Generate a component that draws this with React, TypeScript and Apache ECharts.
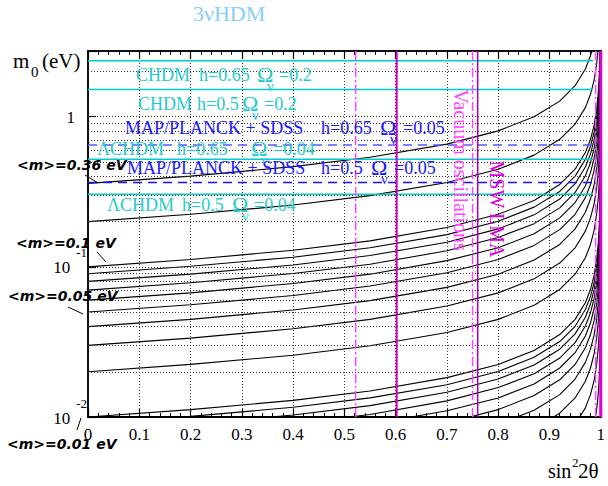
import React, { useEffect, useRef } from "react";
import * as echarts from "echarts";

// ---------- data ----------
const X_GRID = [0, 0.2, 0.4, 0.55, 0.7, 0.8, 0.87, 0.92, 0.95, 0.97, 0.98, 0.987, 0.992, 0.995, 0.997, 0.999, 1];

const CURVE_0_36 = [0.36, 0.402, 0.465, 0.537, 0.657, 0.805, 0.999, 1.27, 1.61, 2.08, 2.55, 3.16];
const CURVE_0_2 = [0.2, 0.224, 0.258, 0.298, 0.365, 0.447, 0.555, 0.707, 0.894, 1.15, 1.41, 1.75, 2.24, 2.83];
const CURVE_0_1 = [0.1, 0.112, 0.129, 0.149, 0.183, 0.224, 0.277, 0.354, 0.447, 0.577, 0.707, 0.877, 1.12, 1.41, 1.83, 3.16];
const CURVE_0_09 = [0.09, 0.101, 0.116, 0.134, 0.164, 0.201, 0.25, 0.318, 0.402, 0.52, 0.636, 0.789, 1.01, 1.27, 1.64, 2.85];
const CURVE_0_08 = [0.08, 0.0894, 0.103, 0.119, 0.146, 0.179, 0.222, 0.283, 0.358, 0.462, 0.566, 0.702, 0.894, 1.13, 1.46, 2.53, 3];
const CURVE_0_07 = [0.07, 0.0783, 0.0904, 0.104, 0.128, 0.157, 0.194, 0.247, 0.313, 0.404, 0.495, 0.614, 0.783, 0.99, 1.28, 2.21, 3];
const CURVE_0_06 = [0.06, 0.0671, 0.0775, 0.0894, 0.11, 0.134, 0.166, 0.212, 0.268, 0.346, 0.424, 0.526, 0.671, 0.849, 1.1, 1.9, 3];
const CURVE_0_05 = [0.05, 0.0559, 0.0645, 0.0745, 0.0913, 0.112, 0.139, 0.177, 0.224, 0.289, 0.354, 0.439, 0.559, 0.707, 0.913, 1.58, 3];
const CURVE_0_04 = [0.04, 0.0447, 0.0516, 0.0596, 0.073, 0.0894, 0.111, 0.141, 0.179, 0.231, 0.283, 0.351, 0.447, 0.566, 0.73, 1.26, 3];
const CURVE_0_03 = [0.03, 0.0335, 0.0387, 0.0447, 0.0548, 0.0671, 0.0832, 0.106, 0.134, 0.173, 0.212, 0.263, 0.335, 0.424, 0.548, 0.949, 3];
const CURVE_0_02 = [0.02, 0.0224, 0.0258, 0.0298, 0.0365, 0.0447, 0.0555, 0.0707, 0.0894, 0.115, 0.141, 0.175, 0.224, 0.283, 0.365, 0.632, 3];
const CURVE_0_01 = [0.01, 0.0112, 0.0129, 0.0149, 0.0183, 0.0224, 0.0277, 0.0354, 0.0447, 0.0577, 0.0707, 0.0877, 0.112, 0.141, 0.183, 0.316, 3];
const CURVE_0_009 = [0.009, 0.0101, 0.0116, 0.0134, 0.0164, 0.0201, 0.025, 0.0318, 0.0402, 0.052, 0.0636, 0.0789, 0.101, 0.127, 0.164, 0.285, 3];
const CURVE_0_008 = [0.008, 0.00894, 0.0103, 0.0119, 0.0146, 0.0179, 0.0222, 0.0283, 0.0358, 0.0462, 0.0566, 0.0702, 0.0894, 0.113, 0.146, 0.253, 3];
const CURVE_0_007 = [0.007, 0.00783, 0.00904, 0.0104, 0.0128, 0.0157, 0.0194, 0.0247, 0.0313, 0.0404, 0.0495, 0.0614, 0.0783, 0.099, 0.128, 0.221, 3];
const CURVE_0_006 = [0.006, 0.00671, 0.00775, 0.00894, 0.011, 0.0134, 0.0166, 0.0212, 0.0268, 0.0346, 0.0424, 0.0526, 0.0671, 0.0849, 0.11, 0.19, 3];
const CURVE_0_005 = [0.005, 0.00559, 0.00645, 0.00745, 0.00913, 0.0112, 0.0139, 0.0177, 0.0224, 0.0289, 0.0354, 0.0439, 0.0559, 0.0707, 0.0913, 0.158, 3];
const CURVE_0_004 = [0.004, 0.00447, 0.00516, 0.00596, 0.0073, 0.00894, 0.0111, 0.0141, 0.0179, 0.0231, 0.0283, 0.0351, 0.0447, 0.0566, 0.073, 0.126, 3];
const CURVE_0_003 = [0.003, 0.00335, 0.00387, 0.00447, 0.00548, 0.00671, 0.00832, 0.0106, 0.0134, 0.0173, 0.0212, 0.0263, 0.0335, 0.0424, 0.0548, 0.0949, 3];
const CURVE_0_002 = [0.002, 0.00224, 0.00258, 0.00298, 0.00365, 0.00447, 0.00555, 0.00707, 0.00894, 0.0115, 0.0141, 0.0175, 0.0224, 0.0283, 0.0365, 0.0632, 3];
const CURVE_0_001 = [0.001, 0.00112, 0.00129, 0.00149, 0.00183, 0.00224, 0.00277, 0.00354, 0.00447, 0.00577, 0.00707, 0.00877, 0.0112, 0.0141, 0.0183, 0.0316, 3];

const CURVES = [
  CURVE_0_36, CURVE_0_2, CURVE_0_1, CURVE_0_09, CURVE_0_08, CURVE_0_07, CURVE_0_06,
  CURVE_0_05, CURVE_0_04, CURVE_0_03, CURVE_0_02, CURVE_0_01, CURVE_0_009, CURVE_0_008,
  CURVE_0_007, CURVE_0_006, CURVE_0_005, CURVE_0_004, CURVE_0_003, CURVE_0_002, CURVE_0_001,
];

// horizontal cosmological bounds (m0 in eV)
const CHDM_H065 = 2.36;
const CHDM_H05 = 1.52;
const MAP_H065 = 0.648;
const LCHDM_H065 = 0.52;
const MAP_H05 = 0.365;
const LCHDM_H05 = 0.304;
const BOUND_X_END = 0.985;

// vertical sin^2 2theta bounds
const VAC_DASH = 0.522;
const VAC_SOLID = 0.602;
const MSW_DASH = 0.75;
const MSW_SOLID = 0.76;
const EDGE_DASH = 0.99;
const EDGE_SOLID = 1.0;

const Y_MIN = 0.01;
const Y_MAX = 2.74;
const X_TICK_LABELS = ["0", "0.1", "0.2", "0.3", "0.4", "0.5", "0.6", "0.7", "0.8", "0.9", "1"];
const Y_TICK_VALUES = [0.01, 0.1, 1];
const Y_TICK_LABELS = [["10", "-2"], ["10", "-1"], ["1", ""]];
const Y_GRID_VALUES = [0.02, 0.03, 0.04, 0.05, 0.06, 0.07, 0.08, 0.09, 0.1, 0.2, 0.3, 0.4, 0.5, 0.6, 0.7, 0.8, 0.9, 1, 2];

const SERIF = "Liberation Serif, Times New Roman, serif";
const CYAN = "#00cccc";
const CYAN_TEXT = "#1ecccc";
const BLUE = "#1a1aff";
const MAGENTA_DASH = "#ff44ff";

function hLine(v: number, color: string, type: any, width: number) {
  return {
    type: "line",
    data: [[0, v], [BOUND_X_END, v]],
    showSymbol: false,
    silent: true,
    z: 4,
    lineStyle: { color, width, type },
  };
}
function vLine(x: number, color: string, type: any, width: number) {
  return {
    type: "line",
    data: [[x, Y_MIN], [x, Y_MAX]],
    showSymbol: false,
    silent: true,
    clip: false,
    z: 5,
    lineStyle: { color, width, type },
  };
}

function txt(text: string, x: number, y: number, size: number, fill: string, extra: any = {}) {
  return {
    type: "text",
    x,
    y,
    z: 100,
    silent: true,
    style: {
      text,
      fill,
      fontSize: size,
      fontFamily: SERIF,
      align: "left",
      verticalAlign: "middle",
      ...extra,
    },
  };
}

function band(color: string, pieces: [string, number][], y: number, ox: number, rest: string, rx: number) {
  const els: any[] = pieces.map(([t, x]) => txt(t, x, y, 18, color));
  els.push(txt("Ω", ox, y - 1, 22, color));
  els.push(txt("ν", ox + 10, y + 11, 15, color));
  els.push(txt(rest, rx, y, 18, color));
  return els;
}

const MLABEL = { fontFamily: "DejaVu Sans, sans-serif", fontStyle: "italic", fontWeight: "bold" };

export default function App() {
  const ref = useRef<HTMLDivElement>(null);
  useEffect(() => {
    const chart = echarts.init(ref.current!, null, { renderer: "svg" });

    const curveSeries = CURVES.map((vals) => ({
      type: "line",
      data: vals.map((v, i) => [X_GRID[i], v]),
      showSymbol: false,
      silent: true,
      smooth: false,
      z: 3,
      lineStyle: { color: "#000", width: 1.1 },
    }));

    const gridSeries = {
      type: "line",
      data: [[0.5, 0.5]],
      showSymbol: false,
      silent: true,
      z: 1,
      lineStyle: { opacity: 0 },
      markLine: {
        silent: true,
        symbol: "none",
        label: { show: false },
        lineStyle: { type: [1, 2], color: "#333", width: 1 },
        data: Y_GRID_VALUES.map((v) => ({ yAxis: v })),
      },
    };

    const dashDot = [9, 3, 2, 3];

    const graphic: any[] = [
      txt("3νHDM", 193, 13, 22, "#87cefa"),
      txt("m", 13, 61, 21, "#000"),
      txt("0", 31, 72, 15, "#000"),
      txt("(eV)", 42, 61, 21, "#000"),
      txt("sin", 548, 471, 20, "#000"),
      txt("2", 572, 462, 13, "#000"),
      txt("2θ", 578, 471, 21, "#000"),
      ...band(CYAN_TEXT, [["CHDM", 136], ["h=0.65", 199]], 75, 257, "=0.2", 279),
      ...band(CYAN_TEXT, [["CHDM", 138], ["h=0.5", 197]], 104, 242, "=0.2", 264),
      ...band(BLUE, [["MAP/PLANCK + SDSS", 125], ["h=0.65", 321]], 128, 380, "=0.05", 403),
      ...band(CYAN_TEXT, [["ΛCHDM", 97], ["h=0.65", 177]], 149, 251, "=0.04", 273),
      ...band(BLUE, [["MAP/PLANCK + SDSS", 127], ["h=0.5", 321]], 168, 371, "=0.05", 394),
      ...band(CYAN_TEXT, [["ΛCHDM", 107], ["h=0.5", 182]], 205, 232, "=0.04", 254),
      {
        type: "text", x: 461, y: 170, rotation: -Math.PI / 2, z: 100, silent: true,
        style: { text: "Vacuum oscillations", fill: MAGENTA_DASH, fontSize: 20, fontFamily: SERIF, align: "center", verticalAlign: "middle" },
      },
      {
        type: "text", x: 497, y: 209, rotation: -Math.PI / 2, z: 100, silent: true,
        style: { text: "MSW LMA", fill: "#dd00dd", fontSize: 20, fontFamily: SERIF, align: "center", verticalAlign: "middle" },
      },
      txt("<m>=0.36 eV", 17, 165, 14, "#000", MLABEL),
      txt("<m>=0.1 eV", 16, 243, 14, "#000", MLABEL),
      txt("<m>=0.05 eV", 8, 296, 14, "#000", MLABEL),
      txt("<m>=0.01 eV", 7, 444, 14, "#000", MLABEL),
      { type: "line", z: 100, silent: true, shape: { x1: 85, y1: 175, x2: 98, y2: 183 }, style: { stroke: "#000", lineWidth: 1 } },
      { type: "line", z: 100, silent: true, shape: { x1: 97, y1: 252, x2: 106, y2: 262 }, style: { stroke: "#000", lineWidth: 1 } },
      { type: "line", z: 100, silent: true, shape: { x1: 68, y1: 307, x2: 83, y2: 314 }, style: { stroke: "#000", lineWidth: 1 } },
      { type: "line", z: 100, silent: true, shape: { x1: 77, y1: 430, x2: 81, y2: 418 }, style: { stroke: "#000", lineWidth: 1 } },
    ];

    const xCommon = {
      type: "value",
      min: 0,
      max: 1,
      interval: 0.1,
      axisTick: { show: true, inside: true, length: 8, lineStyle: { color: "#000", width: 1.2 } },
      minorTick: { show: true, splitNumber: 5, length: 4, lineStyle: { color: "#000", width: 1 } },
    };

    chart.setOption({
      animation: false,
      backgroundColor: "#fff",
      grid: { left: 88, right: 3, top: 51, bottom: 69, show: true, borderColor: "#000", borderWidth: 1.5, backgroundColor: "transparent" },
      xAxis: [
        {
          ...xCommon,
          position: "bottom",
          axisLine: { show: true, onZero: false, lineStyle: { color: "#000", width: 2 } },
          axisLabel: {
            color: "#000",
            fontFamily: SERIF,
            fontSize: 17,
            margin: 9,
            formatter: (v: number) => X_TICK_LABELS[Math.round(v * 10)] ?? "",
          },
          splitLine: { show: true, lineStyle: { type: [1, 2], color: "#333", width: 1 } },
        },
        {
          ...xCommon,
          position: "top",
          axisLine: { show: true, onZero: false, lineStyle: { color: "#000", width: 1.5 } },
          axisLabel: { show: false },
          splitLine: { show: false },
        },
      ],
      yAxis: [
        {
          type: "log",
          logBase: 10,
          min: Y_MIN,
          max: Y_MAX,
          position: "left",
          axisLine: { show: true, onZero: false, lineStyle: { color: "#000", width: 1.5 } },
          axisTick: { show: true, inside: true, length: 8, lineStyle: { color: "#000", width: 1.2 } },
          splitLine: { show: false },
          axisLabel: {
            margin: 1,
            padding: [0, 0, 11, 0],
            formatter: (v: number) => {
              const i = Y_TICK_VALUES.findIndex((t) => Math.abs(Math.log10(t) - Math.log10(v)) < 1e-6);
              if (i < 0) return "";
              const [b, e] = Y_TICK_LABELS[i];
              return e ? `{b|${b}}{s|${e}}` : `{b|${b}}{g| }`;
            },
            rich: {
              b: { fontSize: 17, fontFamily: SERIF, color: "#000", padding: [13, 0, 0, 0] },
              s: { fontSize: 13, fontFamily: SERIF, color: "#000", padding: [0, 0, 17, 6] },
              g: { fontSize: 13, fontFamily: SERIF, color: "#000", width: 12, padding: [0, 0, 17, 0] },
            },
          },
        },
        {
          type: "log",
          logBase: 10,
          min: Y_MIN,
          max: Y_MAX,
          position: "right",
          axisLine: { show: true, onZero: false, lineStyle: { color: "#000", width: 1.5 } },
          axisTick: { show: false },
          axisLabel: { show: false },
          splitLine: { show: false },
        },
      ],
      series: [
        gridSeries,
        ...curveSeries,
        hLine(CHDM_H065, CYAN, "solid", 1.5),
        hLine(CHDM_H05, CYAN, "solid", 1.5),
        hLine(MAP_H065, "#5555ff", [9, 6], 1.5),
        hLine(LCHDM_H065, CYAN, "solid", 1.5),
        hLine(MAP_H05, "#1515f0", [9, 6], 1.5),
        hLine(LCHDM_H05, CYAN, "solid", 1.5),
        vLine(VAC_DASH, MAGENTA_DASH, dashDot, 1.5),
        vLine(VAC_SOLID, "#cc00cc", "solid", 2),
        vLine(MSW_DASH, MAGENTA_DASH, dashDot, 1.5),
        vLine(MSW_SOLID, "#aa00aa", "solid", 1.5),
        vLine(EDGE_DASH, MAGENTA_DASH, dashDot, 1.5),
        vLine(EDGE_SOLID, "#dd00dd", "solid", 3),
      ],
      graphic,
    });
    return () => chart.dispose();
  }, []);
  return (
    <div
      ref={ref}
      style={{ position: "fixed", left: 0, top: 0, width: 608, height: 486, background: "#fff" }}
    />
  );
}
